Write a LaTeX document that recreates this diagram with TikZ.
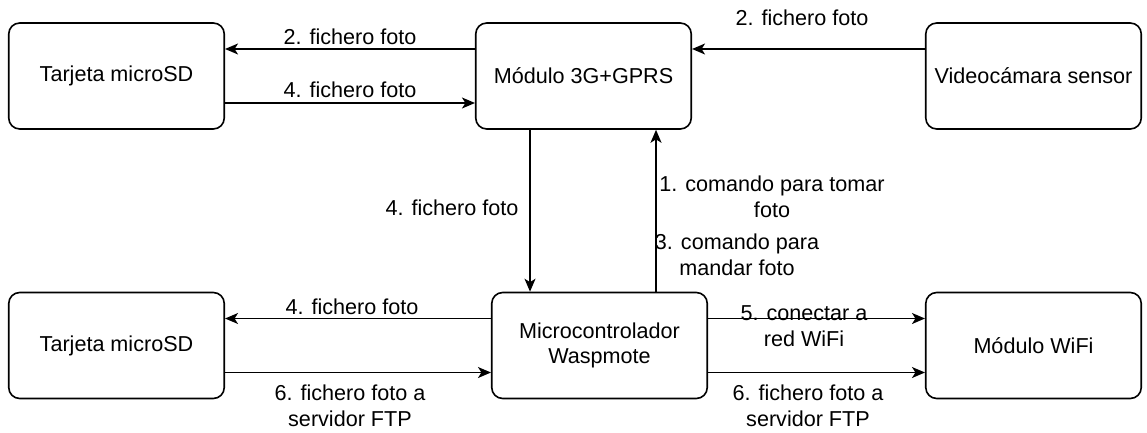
\documentclass[tikz,border=0pt]{standalone}
\usepackage{fontspec}
\setmainfont{Liberation Sans}
\usetikzlibrary{arrows.meta}

\tikzset{
  block/.style={draw, line width=1.6pt, rounded corners=11pt,
    minimum width=215.5pt, minimum height=106pt, align=center,
    font=\fontsize{21.6}{25.5}\selectfont, inner sep=0pt},
  lbl/.style={align=center, font=\fontsize{21.6}{25.5}\selectfont, inner sep=0pt},
  link/.style={line width=1.6pt, -{Stealth[length=13pt, width=11pt, inset=3.5pt]}}
}

\begin{document}
\begin{tikzpicture}[x=1pt, y=-1pt]
  \useasboundingbox (0,0) rectangle (1147,433);

  % devices
  \node[block] (sdtop)  at (116.5,76)   {Tarjeta microSD};
  \node[block] (gprs)   at (583.5,76)   {Módulo 3G+GPRS};
  \node[block] (cam)    at (1033.5,76)  {Videocámara sensor};
  \node[block] (sdbot)  at (116.5,345.5) {Tarjeta microSD};
  \node[block] (mcu)    at (599.5,345.5) {Microcontrolador\\Waspmote};
  \node[block] (wifi)   at (1033.5,345.5) {Módulo WiFi};

  % message labels
  \node[lbl] (l2a) at (350,37)  {2. fichero foto};
  \node[lbl] (l4a) at (350,90)  {4. fichero foto};
  \node[lbl] (l2b) at (802,18)  {2. fichero foto};
  \node[lbl] (l4b) at (452,208) {4. fichero foto};
  \node[lbl] (l1)  at (772,197) {1. comando para tomar\\foto};
  \node[lbl] (l3)  at (737,255) {3. comando para\\mandar foto};
  \node[lbl] (l4c) at (352,307) {4. fichero foto};
  \node[lbl] (l6a) at (350,406) {6. fichero foto a\\servidor FTP};
  \node[lbl] (l5)  at (804,326) {5. conectar a\\red WiFi};
  \node[lbl] (l6b) at (808,406) {6. fichero foto a\\servidor FTP};

  % top row
  \draw[link] ([yshift=27pt]gprs.west) -- ([yshift=27pt]sdtop.east);
  \draw[link] ([yshift=-27pt]sdtop.east) -- ([yshift=-27pt]gprs.west);
  \draw[link] ([yshift=27pt]cam.west) -- ([yshift=27pt]gprs.east);

  % vertical links
  \draw[link] ([xshift=-53.5pt]gprs.south) -- ([xshift=-53.5pt]gprs.south |- mcu.north);
  \draw[link] ([xshift=56.5pt]mcu.north) -- ([xshift=56.5pt]mcu.north |- gprs.south);

  % bottom row
  \draw[link] ([yshift=27pt]mcu.west) -- ([yshift=27pt]sdbot.east);
  \draw[link] ([yshift=-27pt]sdbot.east) -- ([yshift=-27pt]mcu.west);
  \draw[link] ([yshift=27pt]mcu.east) -- ([yshift=27pt]wifi.west);
  \draw[link] ([yshift=-27pt]mcu.east) -- ([yshift=-27pt]wifi.west);
\end{tikzpicture}
\end{document}
